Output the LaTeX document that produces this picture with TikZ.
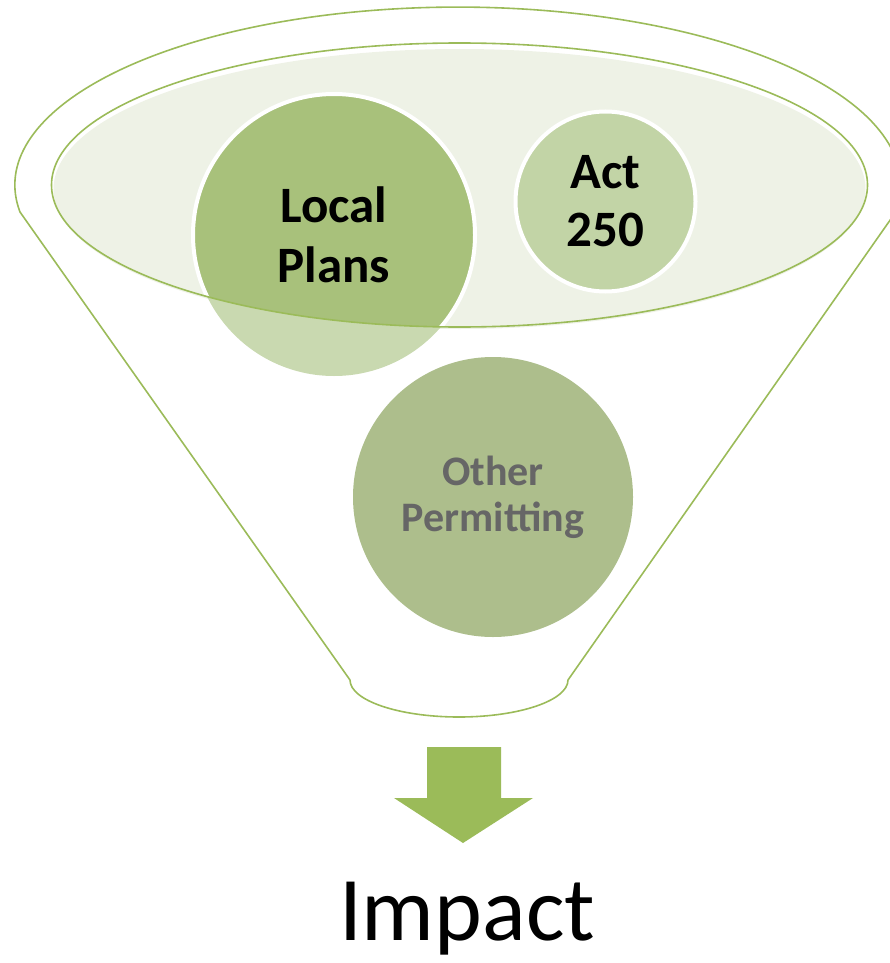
\documentclass[tikz,border=0pt]{standalone}
\usepackage{fontspec}
\setmainfont{Carlito}
\definecolor{fgreen}{HTML}{9BBB59}
\definecolor{ellfill}{HTML}{EEF2E6}
\definecolor{localdark}{HTML}{A8C17B}
\definecolor{locallight}{HTML}{C9D9B0}
\definecolor{actfill}{HTML}{C2D4A6}
\definecolor{otherfill}{HTML}{ADBE8C}
\definecolor{othertext}{HTML}{666666}
\tikzset{
  outline/.style={draw=fgreen, line width=1.6pt, line join=round},
  bubble/.style={circle, draw=white, line width=4pt, align=center, inner sep=0pt},
  bigtext/.style={font=\fontsize{51}{60}\selectfont\bfseries},
}
\begin{document}
\begin{tikzpicture}[x=1pt,y=-1pt]
\useasboundingbox (0,0) rectangle (890,963);
\begin{scope}
\clip (0,0) rectangle (890,963);
% funnel outline
\draw[outline] (20,212)
  arc[start angle=188.7, end angle=-8.7, x radius=443pt, y radius=178pt]
  -- (568,680)
  arc[start angle=0, end angle=-180, x radius=109pt, y radius=37pt]
  -- cycle;
\end{scope}
% inner ellipse fill (slightly offset, shadow-like)
\fill[ellfill] (459.5,189) ellipse[x radius=406pt, y radius=140pt];
% Local Plans circle: light outside, darker inside ellipse
\fill[locallight] (334,235) circle[radius=141pt];
\begin{scope}
  \clip (459.5,186) ellipse[x radius=407pt, y radius=141pt];
  \fill[localdark] (334,235) circle[radius=141pt];
  \draw[white, line width=4pt] (334,235) circle[radius=141pt];
\end{scope}
\node[bubble, draw=none, minimum size=282pt, bigtext] (local) at (334,235) {Local\\Plans};
% inner ellipse stroke
\draw[outline] (459.5,185) ellipse[x radius=408pt, y radius=142pt];
% Act 250
\node[bubble, fill=actfill, minimum size=180pt, bigtext] (act) at (605.5,201.5) {Act\\[-2pt]250};
% Other Permitting
\node[bubble, draw=none, fill=otherfill, minimum size=280pt, text=othertext,
      font=\fontsize{42}{46}\selectfont\bfseries] (other) at (493,497) {Other\\Permitting};
% arrow
\fill[fgreen] (427,747) -- (501,747) -- (501,798) -- (533,798) -- (463,843)
  -- (394,798) -- (427,798) -- cycle;
% Impact
\node[anchor=base, font=\fontsize{91}{100}\selectfont, inner sep=0pt] (impact) at (467,940) {Impact};
\end{tikzpicture}
\end{document}
